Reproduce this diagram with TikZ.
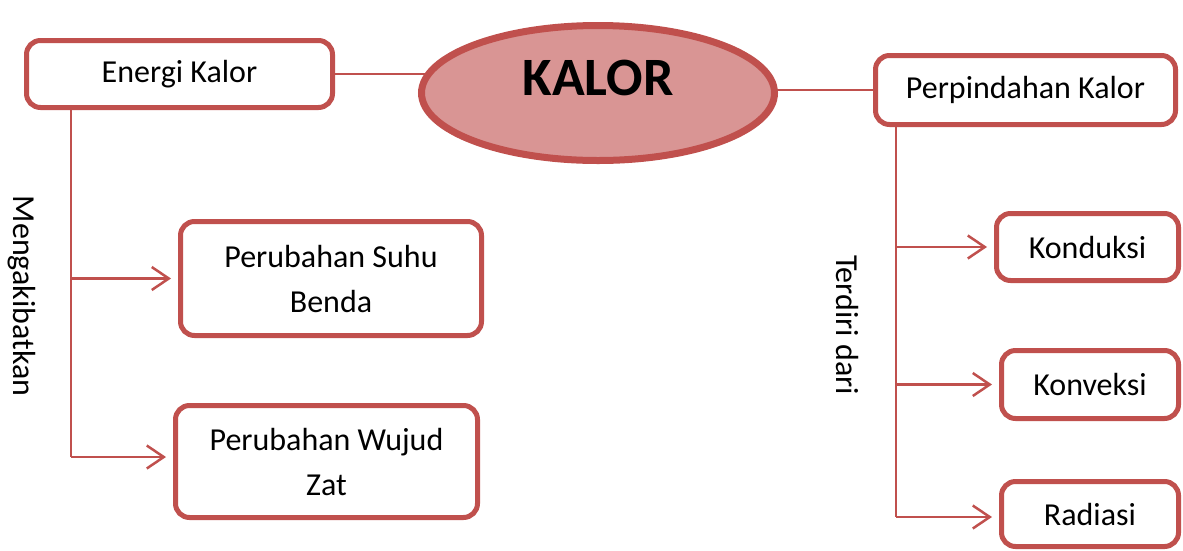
\documentclass[tikz,border=0pt]{standalone}
\usepackage{fontspec}
\setmainfont{Carlito}
\usepackage{tikz}
\usetikzlibrary{shapes,arrows.meta,positioning,backgrounds}
\definecolor{kred}{HTML}{C0504D}
\definecolor{kfill}{HTML}{D99594}
\tikzset{
  box/.style={draw=kred, line width=5pt, rounded corners=14pt, fill=white, align=center, inner sep=0pt, font=\fontsize{32}{45}\selectfont},
  link/.style={draw=kred, line width=2.5pt},
  arr/.style={link, shorten >=7pt, -{Straight Barb[length=17pt,width=23pt,line width=2.5pt]}},
  side/.style={rotate=-90, inner sep=0pt, font=\fontsize{32}{36}\selectfont},
}

\begin{document}
\begin{tikzpicture}[x=1pt,y=-1pt]
    \useasboundingbox (0,0) rectangle (1183,550);
    % center topic
    \node[ellipse, draw=kred, fill=kfill, line width=7pt, minimum width=353pt, minimum height=135pt, inner sep=0pt, font=\fontsize{54}{60}\selectfont\bfseries] (kalor) at (598,93) {\raisebox{15pt}[\height][\depth]{KALOR}};

    % left branch
    \node[box, minimum width=306pt, minimum height=67pt] (ek) at (179.5,74) {Energi Kalor};
    \node[box, minimum width=301pt, minimum height=114pt] (suhu) at (331,278.5) {Perubahan Suhu\\Benda};
    \node[box, minimum width=302pt, minimum height=112pt] (wujud) at (326.5,461.5) {Perubahan Wujud\\Zat};
    \node[side] (akibat) at (22,296) {Mengakibatkan};

    % right branch
    \node[box, minimum width=300pt, minimum height=69pt] (pk) at (1025.5,90) {Perpindahan Kalor};
    \node[box, minimum width=182pt, minimum height=67pt] (konduksi) at (1087.5,247) {Konduksi};
    \node[box, minimum width=177pt, minimum height=68pt] (konveksi) at (1090,384.5) {Konveksi};
    \node[box, minimum width=177pt, minimum height=65pt] (radiasi) at (1090,514) {Radiasi};
    \node[side] (terdiri) at (847,325) {Terdiri dari};

    \begin{pgfonlayer}{background}
        \draw[link] (ek.east) -- (ek.east -| kalor.center);
        \draw[link] (kalor.center |- pk.west) -- (pk.west);
    \end{pgfonlayer}

    % connectors
    \coordinate (lt) at (71,110);
    \coordinate (lb) at (71,457);
    \draw[link] (lt) -- (lb);
    \draw[arr] (suhu.west -| lt) -- (suhu.west);
    \draw[arr] (lb) -- (lb -| wujud.west);

    \coordinate (rt) at (896,125);
    \coordinate (rb) at (896,517);
    \draw[link] (rt) -- (rb);
    \draw[arr] (konduksi.west -| rt) -- (konduksi.west);
    \draw[arr] (konveksi.west -| rt) -- (konveksi.west);
    \draw[arr] (rb) -- (rb -| radiasi.west);
\end{tikzpicture}
\end{document}
